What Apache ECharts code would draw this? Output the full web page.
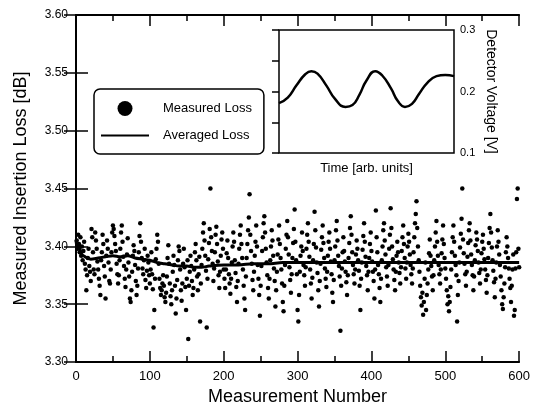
<!DOCTYPE html>
<html>
<head>
<meta charset="utf-8">
<script src="https://cdn.jsdelivr.net/npm/echarts@6/dist/echarts.min.js"></script>
<style>html,body{margin:0;padding:0;background:#fff}#c{width:533px;height:411px}</style>
</head>
<body>
<div id="c"></div>
<script>
// Measured insertion loss [dB], measurement numbers 1..600
const measuredLoss = [
3.405,3.398,3.410,3.402,3.395,3.408,3.392,3.400,3.388,3.396,
3.404,3.385,3.380,3.362,3.375,3.390,3.398,3.383,3.378,3.370,
3.415,3.408,3.395,3.380,3.376,3.412,3.405,3.398,3.387,3.380,
3.372,3.366,3.358,3.388,3.395,3.410,3.402,3.383,3.374,3.355,
3.392,3.405,3.398,3.386,3.370,3.368,3.380,3.395,3.412,3.418,
3.415,3.409,3.402,3.396,3.385,3.376,3.368,3.375,3.388,3.398,
3.412,3.418,3.404,3.391,3.383,3.372,3.365,3.380,3.393,3.407,
3.386,3.374,3.355,3.352,3.362,3.378,3.392,3.401,3.396,3.384,
3.370,3.358,3.366,3.381,3.395,3.409,3.420,3.404,3.390,3.381,
3.376,3.388,3.398,3.371,3.364,3.379,3.392,3.386,3.375,3.368,
3.380,3.395,3.376,3.363,3.330,3.345,3.372,3.389,3.398,3.410,
3.404,3.385,3.372,3.364,3.358,3.362,3.368,3.375,3.366,3.356,
3.352,3.360,3.374,3.390,3.401,3.385,3.368,3.357,3.350,3.362,
3.378,3.392,3.384,3.366,3.342,3.355,3.371,3.388,3.400,3.396,
3.380,3.362,3.353,3.368,3.385,3.398,3.382,3.365,3.345,3.372,
3.388,3.320,3.366,3.378,3.392,3.383,3.370,3.358,3.364,3.380,
3.395,3.402,3.388,3.374,3.362,3.376,3.391,3.335,3.368,3.384,
3.398,3.412,3.420,3.405,3.392,3.379,3.330,3.372,3.389,3.403,
3.415,3.450,3.408,3.396,3.385,3.370,3.381,3.395,3.410,3.417,
3.402,3.387,3.375,3.364,3.378,3.392,3.406,3.412,3.398,3.380,
3.372,3.364,3.380,3.394,3.405,3.390,3.376,3.368,3.359,3.372,
3.386,3.400,3.412,3.404,3.388,3.377,3.365,3.352,3.370,3.385,
3.398,3.410,3.418,3.402,3.390,3.380,3.366,3.355,3.345,3.374,
3.390,3.402,3.414,3.425,3.445,3.410,3.396,3.385,3.371,3.362,
3.378,3.392,3.404,3.418,3.400,3.384,3.372,3.358,3.340,3.366,
3.383,3.396,3.408,3.420,3.426,3.412,3.398,3.386,3.375,3.364,
3.355,3.372,3.388,3.400,3.414,3.405,3.392,3.381,3.370,3.348,
3.362,3.378,3.393,3.406,3.418,3.402,3.390,3.380,3.368,3.352,
3.344,3.366,3.384,3.398,3.410,3.422,3.408,3.393,3.382,3.371,
3.360,3.376,3.390,3.403,3.415,3.432,3.404,3.388,3.376,3.345,
3.335,3.358,3.378,3.392,3.400,3.412,3.396,3.384,3.375,3.366,
3.382,3.398,3.410,3.420,3.404,3.391,3.380,3.368,3.355,3.373,
3.388,3.402,3.430,3.414,3.399,3.386,3.377,3.362,3.348,3.370,
3.385,3.397,3.408,3.418,3.403,3.390,3.381,3.372,3.365,3.378,
3.392,3.404,3.412,3.398,3.387,3.376,3.360,3.352,3.371,3.388,
3.400,3.414,3.422,3.405,3.392,3.383,3.374,3.327,3.366,3.381,
3.395,3.408,3.396,3.387,3.378,3.369,3.358,3.375,3.390,3.403,
3.416,3.426,3.410,3.395,3.384,3.376,3.368,3.380,3.393,3.405,
3.398,3.388,3.379,3.366,3.345,3.372,3.386,3.397,3.409,3.420,
3.404,3.391,3.383,3.375,3.362,3.378,3.390,3.402,3.412,3.396,
3.387,3.378,3.370,3.355,3.380,3.431,3.408,3.395,3.384,3.376,
3.364,3.352,3.372,3.388,3.400,3.414,3.420,3.405,3.393,3.382,
3.374,3.366,3.384,3.398,3.410,3.433,3.416,3.400,3.389,3.380,
3.371,3.362,3.378,3.392,3.404,3.395,3.386,3.377,3.368,3.382,
3.396,3.408,3.418,3.402,3.390,3.381,3.372,3.386,3.400,3.411,
3.404,3.393,3.384,3.376,3.368,3.381,3.395,3.408,3.420,3.428,
3.439,3.416,3.400,3.388,3.378,3.366,3.356,3.349,3.360,3.341,
3.352,3.372,3.386,3.345,3.358,3.368,3.380,3.394,3.406,3.392,
3.383,3.374,3.362,3.375,3.388,3.400,3.412,3.422,3.404,3.392,
3.384,3.376,3.368,3.380,3.394,3.406,3.418,3.402,3.390,3.381,
3.372,3.362,3.350,3.357,3.344,3.352,3.365,3.380,3.395,3.408,
3.418,3.404,3.392,3.384,3.375,3.335,3.358,3.370,3.386,3.399,
3.411,3.424,3.450,3.406,3.394,3.385,3.376,3.366,3.378,3.391,
3.403,3.414,3.420,3.405,3.393,3.384,3.375,3.362,3.374,3.388,
3.401,3.412,3.406,3.396,3.386,3.377,3.368,3.380,3.394,3.404,
3.410,3.398,3.389,3.380,3.371,3.360,3.375,3.390,3.403,3.416,
3.428,3.412,3.399,3.388,3.379,3.369,3.356,3.372,3.386,3.400,
3.414,3.404,3.393,3.384,3.374,3.362,3.350,3.346,3.356,3.368,
3.382,3.395,3.408,3.400,3.390,3.381,3.372,3.364,3.352,3.366,
3.380,3.393,3.340,3.345,3.381,3.395,3.441,3.450,3.398,3.382
];

// Averaged loss curve
const avgX = [0,2,4,6,8,10,15,20,30,40,50,60,70,80,90,100,110,120,130,140,150,160,170,180,200,220,240,260,280,300,350,400,450,500,550,600];
const avgY = [3.405,3.398,3.402,3.396,3.393,3.392,3.390,3.389,3.390,3.391,3.392,3.391,3.392,3.390,3.389,3.388,3.386,3.385,3.384,3.383,3.383,3.382,3.382,3.383,3.384,3.384,3.385,3.385,3.386,3.386,3.386,3.386,3.386,3.386,3.386,3.386];

// Inset: detector voltage vs time (arb. units)
const timeX = [0,0.05,0.10,0.15,0.185,0.22,0.27,0.32,0.38,0.42,0.46,0.50,0.55,0.59,0.64,0.68,0.72,0.76,0.80,0.85,0.90,0.95,1.0];
const voltage = [0.181,0.190,0.210,0.228,0.233,0.229,0.210,0.188,0.175,0.178,0.195,0.218,0.233,0.226,0.205,0.184,0.175,0.180,0.196,0.215,0.225,0.227,0.225];

const xTicksInterval = 100;
const yMin = 3.30, yMax = 3.60, yInterval = 0.05;

const black = '#000';
const font = "'Liberation Sans', Arial, sans-serif";

const chart = echarts.init(document.getElementById('c'), null, {renderer: 'canvas'});

const tickStyle = {color: black, width: 1.5};
const option = {
  animation: false,
  backgroundColor: '#fff',
  textStyle: {fontFamily: font, color: black},
  grid: [
    {left: 76, top: 15, right: 8, bottom: 41},
    {left: 279, top: 30, right: 79, bottom: 258, show: true, backgroundColor: '#fff', borderColor: black, borderWidth: 1.5, z: 5}
  ],
  legend: {
    left: 94, top: 89, orient: 'vertical',
    data: [
      {name: 'Measured Loss', icon: 'circle', itemStyle: {color: black, opacity: 1}},
      {name: 'Averaged Loss', itemStyle: {color: 'rgba(0,0,0,0)', borderColor: 'rgba(0,0,0,0)', borderWidth: 0}}
    ],
    itemWidth: 48, itemHeight: 15, itemGap: 13,
    padding: [12, 12, 12, 6],
    borderColor: black, borderWidth: 1.5, borderRadius: 6,
    backgroundColor: '#fff',
    textStyle: {fontSize: 13, color: black, fontFamily: font, padding: [0, 0, 0, 9]}
  },
  xAxis: [
    {
      gridIndex: 0, type: 'value', min: 0, max: 600, interval: xTicksInterval,
      name: 'Measurement Number', nameLocation: 'middle', nameGap: 22,
      nameTextStyle: {fontSize: 18, color: black, fontFamily: font},
      axisLine: {lineStyle: {color: black, width: 2}},
      axisTick: {inside: true, length: 11, lineStyle: tickStyle},
      minorTick: {show: true, splitNumber: 2, length: 6, lineStyle: tickStyle},
      axisLabel: {fontSize: 13, color: black, margin: 8, fontFamily: font},
      splitLine: {show: false}, minorSplitLine: {show: false}
    },
    {
      gridIndex: 0, type: 'value', position: 'top', min: 0, max: 600, interval: xTicksInterval,
      axisLine: {lineStyle: {color: black, width: 2}},
      axisTick: {inside: true, length: 11, lineStyle: tickStyle},
      minorTick: {show: true, splitNumber: 2, length: 6, lineStyle: tickStyle},
      axisLabel: {show: false}, splitLine: {show: false}
    },
    {
      gridIndex: 1, type: 'value', min: 0, max: 1,
      name: 'Time [arb. units]', nameLocation: 'middle', nameGap: 9,
      nameTextStyle: {fontSize: 13, color: black, fontFamily: font},
      axisLine: {show: false}, axisTick: {show: false}, axisLabel: {show: false}, splitLine: {show: false}
    }
  ],
  yAxis: [
    {
      gridIndex: 0, type: 'value', min: yMin, max: yMax, interval: yInterval,
      name: 'Measured Insertion Loss [dB]', nameLocation: 'middle', nameGap: 46,
      nameTextStyle: {fontSize: 18, color: black, fontFamily: font},
      axisLine: {lineStyle: {color: black, width: 2}},
      axisTick: {inside: true, length: 12, lineStyle: tickStyle},
      axisLabel: {fontSize: 12, color: black, margin: 8, fontFamily: font, formatter: v => v.toFixed(2)},
      splitLine: {show: false}
    },
    {
      gridIndex: 0, type: 'value', position: 'right', min: yMin, max: yMax, interval: yInterval,
      axisLine: {show: true, lineStyle: {color: black, width: 2}},
      axisTick: {show: true, inside: true, length: 12, lineStyle: tickStyle},
      axisLabel: {show: false}, splitLine: {show: false}
    },
    {
      gridIndex: 1, type: 'value', position: 'right', min: 0.1, max: 0.3, interval: 0.1,
      name: 'Detector Voltage [V]', nameLocation: 'middle', nameRotate: -90, nameGap: 30,
      nameTextStyle: {fontSize: 14, color: black, fontFamily: font},
      axisLine: {show: false},
      axisTick: {show: true, inside: true, length: 7, lineStyle: tickStyle},
      minorTick: {show: true, splitNumber: 2, length: 7, lineStyle: tickStyle},
      axisLabel: {fontSize: 11, color: black, margin: 6, fontFamily: font, formatter: v => v.toFixed(1)},
      splitLine: {show: false}, minorSplitLine: {show: false}
    }
  ],
  series: [
    {
      name: 'Measured Loss', type: 'scatter', xAxisIndex: 0, yAxisIndex: 0,
      symbol: 'circle', symbolSize: 4.5,
      itemStyle: {color: black, opacity: 1},
      data: measuredLoss.map((v, i) => [i + 1, v]),
      z: 2
    },
    {
      name: 'Averaged Loss', type: 'line', xAxisIndex: 0, yAxisIndex: 0,
      symbol: 'none', smooth: 0.3,
      lineStyle: {color: black, width: 3},
      itemStyle: {color: black},
      data: avgX.map((x, i) => [x, avgY[i]]),
      z: 3
    },
    {
      name: 'Detector', type: 'line', xAxisIndex: 2, yAxisIndex: 2,
      symbol: 'none', smooth: true,
      lineStyle: {color: black, width: 2.5},
      data: timeX.map((x, i) => [x, voltage[i]]),
      z: 6
    }
  ]
};
chart.setOption(option);
</script>
</body>
</html>
